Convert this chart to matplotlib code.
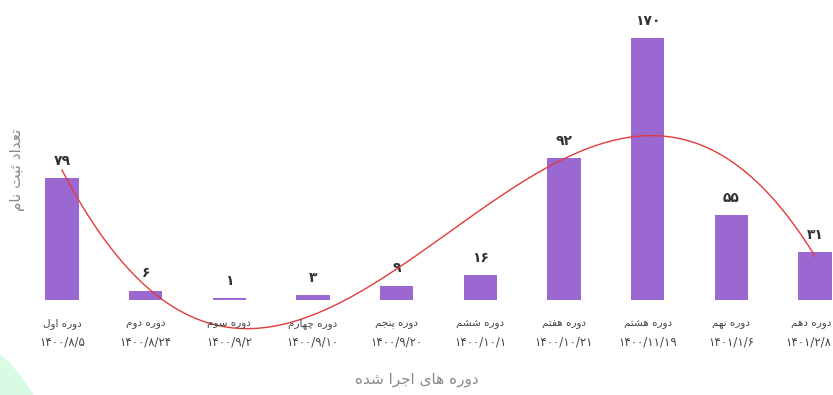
import numpy as np
import matplotlib.pyplot as plt
from matplotlib.patches import Ellipse

# dates and counts per course (Persian digits as shown on the chart)
courses = ["دوره اول", "دوره دوم", "دوره سوم", "دوره چهارم", "دوره پنجم",
           "دوره ششم", "دوره هفتم", "دوره هشتم", "دوره نهم", "دوره دهم"]
dates = ["1400/8/5", "1400/8/24", "1400/9/2", "1400/9/10", "1400/9/20",
         "1400/10/1", "1400/10/21", "1400/11/19", "1401/1/6", "1401/2/8"]
counts = [79, 6, 1, 3, 9, 16, 92, 170, 55, 31]
x_title = "دوره های اجرا شده"
y_title = "تعداد ثبت نام"

# --- minimal arabic/persian shaping, matplotlib 3.10 does none ---
FORMS = {  # isolated, final, initial, medial
    "ا": (0xFE8D, 0xFE8E, None, None),
    "ب": (0xFE8F, 0xFE90, 0xFE91, 0xFE92),
    "پ": (0xFB56, 0xFB57, 0xFB58, 0xFB59),
    "ت": (0xFE95, 0xFE96, 0xFE97, 0xFE98),
    "ث": (0xFE99, 0xFE9A, 0xFE9B, 0xFE9C),
    "ج": (0xFE9D, 0xFE9E, 0xFE9F, 0xFEA0),
    "چ": (0xFB7A, 0xFB7B, 0xFB7C, 0xFB7D),
    "د": (0xFEA9, 0xFEAA, None, None),
    "ر": (0xFEAD, 0xFEAE, None, None),
    "س": (0xFEB1, 0xFEB2, 0xFEB3, 0xFEB4),
    "ش": (0xFEB5, 0xFEB6, 0xFEB7, 0xFEB8),
    "ع": (0xFEC9, 0xFECA, 0xFECB, 0xFECC),
    "ف": (0xFED1, 0xFED2, 0xFED3, 0xFED4),
    "ل": (0xFEDD, 0xFEDE, 0xFEDF, 0xFEE0),
    "م": (0xFEE1, 0xFEE2, 0xFEE3, 0xFEE4),
    "ن": (0xFEE5, 0xFEE6, 0xFEE7, 0xFEE8),
    "ه": (0xFEE9, 0xFEEA, 0xFEEB, 0xFEEC),
    "و": (0xFEED, 0xFEEE, None, None),
    "ی": (0xFBFC, 0xFBFD, 0xFBFE, 0xFBFF),
}


def shape(text):
    out = []
    for i, ch in enumerate(text):
        if ch not in FORMS:
            out.append(ch)
            continue
        prev = text[i - 1] if i > 0 else ""
        nxt = text[i + 1] if i + 1 < len(text) else ""
        joins_prev = prev in FORMS and FORMS[prev][2] is not None
        joins_next = nxt in FORMS and FORMS[ch][2] is not None
        iso, fin, ini, med = FORMS[ch]
        if joins_prev and joins_next:
            code = med
        elif joins_prev:
            code = fin
        elif joins_next:
            code = ini
        else:
            code = iso
        out.append(chr(code))
    return "".join(out)[::-1]


def fa_digits(s):
    return str(s).translate(str.maketrans("0123456789", "۰۱۲۳۴۵۶۷۸۹"))


plt.rcParams['font.family'] = ['DejaVu Sans']

fig = plt.figure(figsize=(8.33, 3.95), dpi=100)
ax = fig.add_axes([0, 0.2405, 1, 0.701])

# light green blob in the lower left corner
fig.patches.append(Ellipse((-100 / 833, -75 / 395), 306 / 833, 306 / 395,
                           transform=fig.transFigure, facecolor="#d8fbe3",
                           edgecolor="none", zorder=0))

xs = np.arange(len(counts))
ax.bar(xs, counts, width=0.4, color="#9a68d0", zorder=2)

for x, v in zip(xs, counts):
    ax.text(x, v + 7, fa_digits(v), ha="center", va="bottom", fontsize=10,
            fontweight="bold", color="#333333")

# polynomial trend line through the counts
coef = np.polyfit(xs, counts, 3)
xx = np.linspace(0, len(counts) - 1, 300)
ax.plot(xx, np.polyval(coef, xx), color="#e33a3a", lw=1, zorder=3, clip_on=False)

ax.set_xlim(-0.741, 9.215)
ax.set_ylim(0, 180)
ax.set_xticks([])
ax.set_yticks([])

# two-line category labels; the last one is pushed against the right edge
for i, (c, d) in enumerate(zip(courses, dates)):
    last = i == len(courses) - 1
    ha = "right" if last else "center"
    dx = 12 if last else 0
    ax.annotate(shape(c), (i, 0), xytext=(dx, -17), textcoords="offset points",
                ha=ha, va="center", fontsize=7.5, color="#444444",
                annotation_clip=False)
    ax.annotate(fa_digits(d), (i, 0), xytext=(dx, -30), textcoords="offset points",
                ha=ha, va="center", fontsize=8.5, color="#444444",
                annotation_clip=False)

for s in ax.spines.values():
    s.set_visible(False)
ax.patch.set_alpha(0)

fig.text(0.5, 0.04, shape(x_title), ha="center", va="center", fontsize=11, color="#8a8a8a")
fig.text(0.021, 0.57, shape(y_title), ha="center", va="center", rotation=90,
         fontsize=11, color="#8a8a8a")

fig.savefig("out.png", dpi=100)
